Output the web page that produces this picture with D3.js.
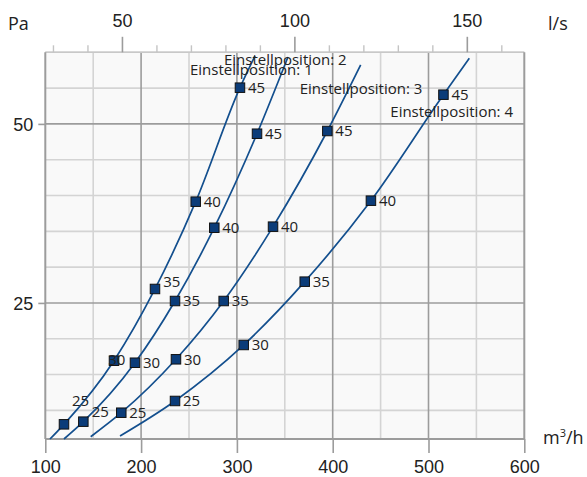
<!DOCTYPE html>
<html>
<head>
<meta charset="utf-8">
<script src="https://cdn.jsdelivr.net/npm/d3@7"></script>
<style>
  html, body { margin: 0; padding: 0; background: #ffffff; }
  svg { display: block; font-family: "Open Sans", "Noto Sans", sans-serif; }
</style>
</head>
<body>
<svg id="chart" width="587" height="477"></svg>
<script>
// Pressure drop over volume flow for four damper settings,
// with sound power markers (25 … 45) along each curve.
const seriesNames = ["Einstellposition: 1", "Einstellposition: 2", "Einstellposition: 3", "Einstellposition: 4"];
const soundLevels = [25, 30, 35, 40, 45];

// Curve traces: volume flow [m³/h] and pressure drop [Pa]
const lineFlow1 = [104.9, 119.5, 171.7, 214.5, 257.0, 303.2, 318.9];
const lineDp1   = [6.0, 8.05, 16.93, 26.95, 39.14, 55.06, 59.5];
const lineFlow2 = [119.5, 139.7, 193.6, 235.4, 276.4, 321.0, 353.3];
const lineDp2   = [6.0, 8.42, 16.65, 25.27, 35.5, 48.63, 59.34];
const lineFlow3 = [147.4, 179.3, 236.4, 286.2, 337.7, 394.4, 429.2];
const lineDp3   = [6.32, 9.67, 17.13, 25.27, 35.65, 49.01, 58.23];
const lineFlow4 = [178.0, 235.4, 307.1, 370.8, 439.9, 515.6, 542.6];
const lineDp4   = [6.42, 11.31, 19.13, 27.97, 39.28, 54.08, 59.16];

// Marker positions (one per sound level)
const markFlow1 = [119.5, 171.7, 214.5, 257.0, 303.2];
const markDp1   = [8.05, 16.93, 26.95, 39.14, 55.06];
const markFlow2 = [139.7, 193.6, 235.4, 276.4, 321.0];
const markDp2   = [8.42, 16.65, 25.27, 35.5, 48.63];
const markFlow3 = [179.3, 236.4, 286.2, 337.7, 394.4];
const markDp3   = [9.67, 17.13, 25.27, 35.65, 49.01];
const markFlow4 = [235.4, 307.1, 370.8, 439.9, 515.6];
const markDp4   = [11.31, 19.13, 27.97, 39.28, 54.08];

// Axis ticks
const xTicks = [100, 200, 300, 400, 500, 600];
const xMinorGrid = [150, 250, 350, 450, 550];
const yTicks = [25, 50];
const yMinorGrid = [10, 15, 20, 30, 35, 40, 45, 55, 60];
const topTicks = [50, 100, 150];
const topMinorTicks = [30, 40, 60, 70, 80, 90, 110, 120, 130, 140, 160];

const lineFlows = [lineFlow1, lineFlow2, lineFlow3, lineFlow4];
const lineDps = [lineDp1, lineDp2, lineDp3, lineDp4];
const markFlows = [markFlow1, markFlow2, markFlow3, markFlow4];
const markDps = [markDp1, markDp2, markDp3, markDp4];

// ---------- layout ----------
const L = 45.3, R = 524.3, T = 52.3, B = 439;
const lineColor = "#134f8e";
const markFill = "#0b3c79";
const minorColor = "#d4d4d4";
const majorColor = "#9c9c9c";
const textColor = "#222";

const svg = d3.select("#chart");
const x = d3.scaleLinear().domain([100, 600]).range([L, R]);
const y = d3.scaleLinear().domain([6, 60]).range([B, T]);
const xl = d3.scaleLinear().domain([100 / 3.6, 600 / 3.6]).range([L, R]);

// plot background
svg.append("rect").attr("x", L).attr("y", T).attr("width", R - L).attr("height", B - T)
  .attr("fill", "#f9f9f9");

// grid
const grid = svg.append("g").attr("stroke-width", 1.6);
grid.selectAll(".vmin").data(xMinorGrid).join("line")
  .attr("x1", d => x(d)).attr("x2", d => x(d)).attr("y1", T).attr("y2", B).attr("stroke", minorColor);
grid.selectAll(".hmin").data(yMinorGrid).join("line")
  .attr("x1", L).attr("x2", R).attr("y1", d => y(d)).attr("y2", d => y(d)).attr("stroke", minorColor);
grid.selectAll(".vmaj").data(xTicks.slice(1, -1)).join("line")
  .attr("x1", d => x(d)).attr("x2", d => x(d)).attr("y1", T).attr("y2", B).attr("stroke", majorColor);
grid.selectAll(".hmaj").data(yTicks).join("line")
  .attr("x1", L).attr("x2", R).attr("y1", d => y(d)).attr("y2", d => y(d)).attr("stroke", majorColor);

// frame
svg.append("line").attr("x1", L).attr("x2", R).attr("y1", T).attr("y2", T)
  .attr("stroke", "#c8c8c8").attr("stroke-width", 1.6);
svg.append("line").attr("x1", L).attr("x2", L).attr("y1", T).attr("y2", B)
  .attr("stroke", majorColor).attr("stroke-width", 2);
svg.append("line").attr("x1", R).attr("x2", R).attr("y1", T).attr("y2", B)
  .attr("stroke", majorColor).attr("stroke-width", 2);
svg.append("line").attr("x1", L).attr("x2", R).attr("y1", B).attr("y2", B)
  .attr("stroke", majorColor).attr("stroke-width", 2);

// bottom axis (m³/h)
const gx = svg.append("g").attr("transform", `translate(0,${B})`)
  .call(d3.axisBottom(x).tickValues(xTicks).tickSize(14).tickFormat(d3.format("d")));
gx.select(".domain").remove();
gx.selectAll(".tick line").attr("stroke", majorColor).attr("stroke-width", 1.6);
gx.selectAll(".tick text").attr("y", 33.5).attr("dy", null)
  .attr("font-size", 18).attr("fill", textColor).attr("font-family", null);

// left axis (Pa)
const gy = svg.append("g").attr("transform", `translate(${L},0)`)
  .call(d3.axisLeft(y).tickValues(yTicks).tickSize(7).tickFormat(d3.format("d")));
gy.select(".domain").remove();
gy.selectAll(".tick line").attr("stroke", majorColor).attr("stroke-width", 1.6);
gy.selectAll(".tick text").attr("x", -12).attr("dy", "0.36em")
  .attr("font-size", 18).attr("fill", textColor).attr("font-family", null);

// top axis (l/s)
const gt = svg.append("g").attr("transform", `translate(0,${T})`)
  .call(d3.axisTop(xl).tickValues(topTicks).tickSize(15.5).tickFormat(d3.format("d")));
gt.select(".domain").remove();
gt.selectAll(".tick line").attr("stroke", majorColor).attr("stroke-width", 1.6);
gt.selectAll(".tick text").attr("y", -25.5).attr("dy", null)
  .attr("font-size", 18).attr("fill", textColor).attr("font-family", null);
const gtm = svg.append("g").attr("transform", `translate(0,${T})`)
  .call(d3.axisTop(xl).tickValues(topMinorTicks).tickSize(7).tickFormat(""));
gtm.select(".domain").remove();
gtm.selectAll(".tick line").attr("stroke", "#c4c4c4").attr("stroke-width", 1.4);

// unit labels
svg.append("text").attr("x", 8).attr("y", 30).attr("font-size", 18).attr("fill", textColor).text("Pa");
svg.append("text").attr("x", 548).attr("y", 30).attr("font-size", 18).attr("fill", textColor).text("l/s");
const unit = svg.append("text").attr("x", 543).attr("y", 443.5).attr("font-size", 18).attr("fill", textColor);
unit.append("tspan").text("m");
unit.append("tspan").attr("font-size", 11).attr("dy", -7).text("3");
unit.append("tspan").attr("dy", 7).text("/h");

// curves
const line = d3.line().x(d => x(d[0])).y(d => y(d[1])).curve(d3.curveMonotoneX);
lineFlows.forEach((fl, i) => {
  const pts = fl.map((f, j) => [f, lineDps[i][j]]);
  svg.append("path").attr("d", line(pts)).attr("fill", "none")
    .attr("stroke", lineColor).attr("stroke-width", 1.7);
});

// series name placement relative to each curve's upper end (px)
const nameOffset = [[-65, 19], [-64, 7.5], [-61, 29.5], [-79, 59]];
lineFlows.forEach((fl, i) => {
  const n = fl.length - 1;
  svg.append("text")
    .attr("x", x(fl[n]) + nameOffset[i][0])
    .attr("y", y(lineDps[i][n]) + nameOffset[i][1])
    .attr("font-size", 15).attr("fill", textColor)
    .text(seriesNames[i]);
});

// markers first, then the sound level labels on top
const ms = 9.5;
const markLayer = svg.append("g");
const labelLayer = svg.append("g");
const labelShift = { "0-0": [8, -18], "1-0": [8.4, -4.4], "0-1": [-5.7, 4.3], "0-2": [8.3, -2.3] };
markFlows.forEach((fl, i) => {
  fl.forEach((f, j) => {
    const cx = x(f), cy = y(markDps[i][j]);
    markLayer.append("rect").attr("x", cx - ms / 2).attr("y", cy - ms / 2)
      .attr("width", ms).attr("height", ms)
      .attr("fill", markFill).attr("stroke", "#111").attr("stroke-width", 1);
    const off = labelShift[`${i}-${j}`] || [8, 5.3];
    labelLayer.append("text").attr("x", cx + off[0]).attr("y", cy + off[1])
      .attr("font-size", 15).attr("fill", textColor).text(soundLevels[j]);
  });
});
</script>
</body>
</html>
